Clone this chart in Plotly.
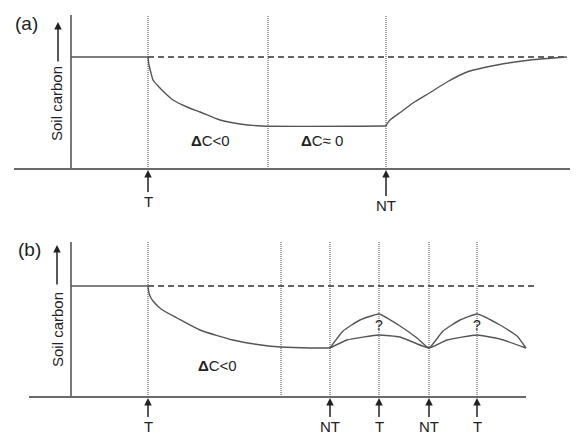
import plotly.graph_objects as go

# ---------------- data (time units, soil-carbon units) ----------------
# Panel (a)
a_axis_t = [-57, 504]          # extent of horizontal time axis
a_axis_c = [0, 154]            # extent of vertical soil-carbon axis
a_c0 = 112                     # initial soil carbon
a_event_t = [77, 197, 315]     # T, new equilibrium, NT
a_pre_t = [0, 77]
a_dash_t = [77, 496]
a_decline_t = [77, 78, 80, 82, 88, 95, 102, 116, 129, 149, 169, 191, 315]
a_decline_c = [112, 104, 96, 89, 82, 75, 69, 62, 57, 49, 45, 43, 43]
a_rise_t = [315, 316, 319, 330, 342, 360, 376, 396, 426, 459, 496]
a_rise_c = [43, 45, 49, 57, 66, 77, 87, 97, 104, 109, 112]

# Panel (b)
b_axis_t = [-42, 455]
b_axis_c = [0, 155]
b_c0 = 111
b_event_t = [77, 210, 259, 308, 358, 406]
b_pre_t = [0, 77]
b_dash_t = [77, 463]
b_decline_t = [77, 78, 80, 82, 90, 106, 129, 162, 190, 210, 239, 259]
b_decline_c = [111, 104, 99, 96, 88, 79, 67, 57, 52, 50, 49, 49]
b_upper_t = [259, 272, 289, 308, 329, 346, 358, 372, 389, 406, 429, 446, 455]
b_upper_c = [49, 66, 77, 83, 71, 59, 49, 66, 77, 83, 72, 61, 49]
b_lower_t = [259, 276, 308, 329, 358, 376, 406, 429, 455]
b_lower_c = [49, 57, 62, 60, 49, 57, 62, 58, 49]

a_labels = ["T", "NT"]
a_label_t = [77, 315]
b_labels = ["T", "NT", "T", "NT", "T"]
b_label_t = [77, 259, 308, 358, 406]

# ---------------- styles ----------------
FONT = "Liberation Sans, Arial, sans-serif"
AXC = "#6a6a6a"
CURVE = "#555555"
DOT = "#444444"

fig = go.Figure()


def add(x, y, xa, ya, **line):
    fig.add_trace(go.Scatter(x=x, y=y, mode="lines", xaxis=xa, yaxis=ya,
                             line=line, hoverinfo="skip", showlegend=False))


def panel(xa, ya, axis_t, axis_c, c0, events, pre_t, dash_t):
    # dotted event lines
    for t in events:
        add([t, t], [0, axis_c[1]], xa, ya, color=DOT, width=1, dash="1px,1px")
    # axes
    add(axis_t, [0, 0], xa, ya, color=AXC, width=1.8)
    add([0, 0], axis_c, xa, ya, color=AXC, width=1.8)
    # initial level
    add(pre_t, [c0, c0], xa, ya, color=CURVE, width=1.4)
    add(dash_t, [c0, c0], xa, ya, color="#333333", width=1.3, dash="6px,4px")


panel("x", "y", a_axis_t, a_axis_c, a_c0, a_event_t, a_pre_t, a_dash_t)
add(a_decline_t, a_decline_c, "x", "y", color=CURVE, width=1.4, shape="spline", smoothing=0.6)
add(a_rise_t, a_rise_c, "x", "y", color=CURVE, width=1.4, shape="spline", smoothing=0.6)

panel("x2", "y2", b_axis_t, b_axis_c, b_c0, b_event_t, b_pre_t, b_dash_t)
add(b_decline_t, b_decline_c, "x2", "y2", color=CURVE, width=1.4, shape="spline", smoothing=0.6)
add(b_upper_t, b_upper_c, "x2", "y2", color=CURVE, width=1.4, shape="spline", smoothing=0.4)
add(b_lower_t, b_lower_c, "x2", "y2", color=CURVE, width=1.4, shape="spline", smoothing=0.4)

ann = []


def text(x, y, s, xr, yr, size=15, angle=0):
    ann.append(dict(x=x, y=y, xref=xr, yref=yr, text=s, showarrow=False,
                    font=dict(family=FONT, size=size, color="#222222"),
                    textangle=angle, xanchor="center", yanchor="middle"))


def arrow(x, y, xr, yr, s, ay, size=15):
    ann.append(dict(x=x, y=y, xref=xr, yref=yr, text=s, showarrow=True,
                    ax=0, ay=ay, arrowhead=2, arrowsize=1, arrowwidth=1.5,
                    arrowcolor="#222222", standoff=0, borderpad=0,
                    font=dict(family=FONT, size=size, color="#222222")))


# Panel (a) texts
text(-45, 146, "(a)", "x", "y", size=19)
text(-15, 65, "Soil carbon", "x", "y", size=15, angle=-90)
arrow(-13, 147, "x", "y", "", 40)
text(139, 29, "<b>Δ</b>C&lt;0", "x", "y", size=15)
text(251, 29, "<b>Δ</b>C≈ 0", "x", "y", size=15)
for s, t in zip(a_labels, a_label_t):
    arrow(t, -1, "x", "y", s, 31 if s == "T" else 35)

# Panel (b) texts
text(-42, 148, "(b)", "x2", "y2", size=19)
text(-14, 67, "Soil carbon", "x2", "y2", size=15, angle=-90)
arrow(-14, 152, "x2", "y2", "", 40)
text(146, 32, "<b>Δ</b>C&lt;0", "x2", "y2", size=15)
for t in [308, 406]:
    text(t, 72, "?", "x2", "y2", size=14)
for s, t in zip(b_labels, b_label_t):
    arrow(t, -1, "x2", "y2", s, 28)

# The page body has an 8 px margin, so the figure is 8 px smaller than the window
ax_common = dict(visible=False, fixedrange=True)
fig.update_layout(
    width=570, height=428,
    margin=dict(l=0, r=0, t=0, b=0),
    paper_bgcolor="white", plot_bgcolor="white",
    xaxis=dict(domain=[0, 1], range=[-63, 507], anchor="y", **ax_common),
    yaxis=dict(domain=[1 - 218 / 428, 1], range=[-57, 161], anchor="x", **ax_common),
    xaxis2=dict(domain=[0, 1], range=[-63, 507], anchor="y2", **ax_common),
    yaxis2=dict(domain=[0, 1 - 218 / 428], range=[-39, 171], anchor="x2", **ax_common),
    annotations=ann,
    showlegend=False,
)

fig.write_html("out.html")
